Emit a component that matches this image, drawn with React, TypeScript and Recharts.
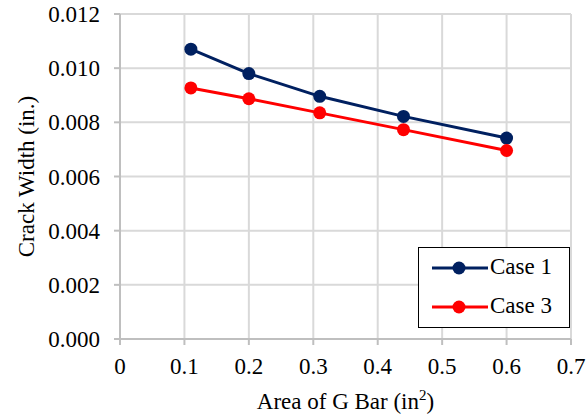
import { CartesianGrid, Legend, Line, LineChart, XAxis, YAxis } from 'recharts'

// bar area (in^2) and crack width (in.) for each case
const barArea = [0.11, 0.2, 0.31, 0.44, 0.6]
const case1Width = [0.0107, 0.0098, 0.00896, 0.00822, 0.00742]
const case3Width = [0.00927, 0.00887, 0.00835, 0.00773, 0.00696]

const xTicks = [0, 0.1, 0.2, 0.3, 0.4, 0.5, 0.6, 0.7]
const yTicks = [0, 0.002, 0.004, 0.006, 0.008, 0.01, 0.012]

const series = [
  { key: 'case1', name: 'Case 1', color: '#002060', values: case1Width },
  { key: 'case3', name: 'Case 3', color: '#FF0000', values: case3Width },
]

const rows = barArea.map((a, i) => ({
  area: a,
  case1: case1Width[i],
  case3: case3Width[i],
}))

const FONT = 'Liberation Serif'
const FS = 23

function XTick({ x, y, payload }: any) {
  const v = payload.value as number
  return (
    <text x={x} y={y + 16} textAnchor="middle" fontFamily={FONT} fontSize={FS} fill="#000">
      {v === 0 ? '0' : String(v)}
    </text>
  )
}

function YTick({ x, y, payload }: any) {
  const v = payload.value as number
  return (
    <text x={x} y={y + 8} textAnchor="end" fontFamily={FONT} fontSize={FS} fill="#000">
      {v.toFixed(3)}
    </text>
  )
}

function XTitle({ viewBox }: any) {
  const cx = viewBox.x + viewBox.width / 2
  return (
    <text x={cx} y={viewBox.y + 70} textAnchor="middle" fontFamily={FONT} fontSize={FS} fill="#000">
      <tspan>Area of G Bar (in</tspan>
      <tspan fontSize={15} dy={-9}>2</tspan>
      <tspan dy={9}>)</tspan>
    </text>
  )
}

function YTitle({ viewBox }: any) {
  const cx = viewBox.x + 34
  const cy = viewBox.y + viewBox.height / 2
  return (
    <text
      x={cx}
      y={cy}
      transform={`rotate(-90, ${cx}, ${cy})`}
      textAnchor="middle"
      fontFamily={FONT}
      fontSize={FS}
      fill="#000"
    >
      Crack Width (in.)
    </text>
  )
}

function LegendBox() {
  return (
    <div
      style={{
        border: '1.5px solid #000',
        background: '#fff',
        width: 152,
        height: 81,
        boxSizing: 'border-box',
        fontFamily: FONT,
        fontSize: FS,
        color: '#000',
        paddingTop: 0,
      }}
    >
      {series.map((s) => (
        <div key={s.key} style={{ display: 'flex', alignItems: 'center', height: 39, lineHeight: 1 }}>
          <svg width={70} height={20}>
            <line x1={13} y1={10} x2={69} y2={10} stroke={s.color} strokeWidth={3} />
            <circle cx={40} cy={10} r={6.5} fill={s.color} />
          </svg>
          <span style={{ marginLeft: 1, marginTop: -2, fontFamily: FONT }}>{s.name}</span>
        </div>
      ))}
    </div>
  )
}

export default function App() {
  return (
    <div style={{ position: 'absolute', left: 0, top: 0, background: '#fff', fontFamily: FONT }}>
      <LineChart width={587} height={419} data={rows} margin={{ top: 14, right: 16, bottom: 0, left: 0 }}>
        <CartesianGrid stroke="#d9d9d9" strokeWidth={2} />
        <XAxis
          dataKey="area"
          type="number"
          domain={[0, 0.7]}
          ticks={xTicks}
          height={80}
          tickSize={6}
          tickMargin={13}
          stroke="#bfbfbf"
          strokeWidth={2}
          tick={<XTick />}
          label={<XTitle />}
        />
        <YAxis
          type="number"
          domain={[0, 0.012]}
          ticks={yTicks}
          width={120}
          tickSize={6}
          tickMargin={14}
          stroke="#bfbfbf"
          strokeWidth={2}
          tick={<YTick />}
          label={<YTitle />}
        />
        <Legend
          layout="horizontal"
          verticalAlign="middle"
          align="center"
          content={<LegendBox />}
          wrapperStyle={{ left: 418, top: 247, width: 152, height: 81 }}
        />
        {series.map((s) => (
          <Line
            key={s.key}
            dataKey={s.key}
            name={s.name}
            type="linear"
            stroke={s.color}
            strokeWidth={3}
            dot={{ r: 6.5, fill: s.color, stroke: s.color, strokeWidth: 0 }}
            activeDot={false}
            isAnimationActive={false}
          />
        ))}
      </LineChart>
    </div>
  )
}
